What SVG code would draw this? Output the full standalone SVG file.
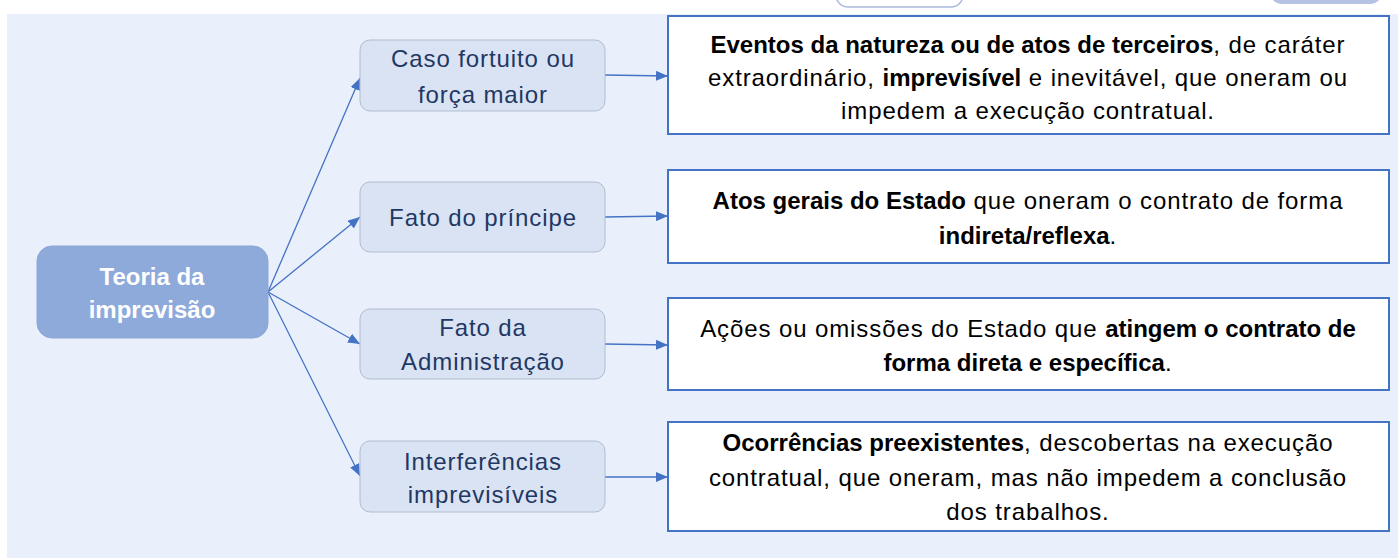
<svg xmlns="http://www.w3.org/2000/svg" width="1398" height="558" viewBox="0 0 1398 558">
<defs>
<style>
.panel{fill:#eaf0fb}
.root{fill:#8eaadb;stroke:#8aa5d6;stroke-width:1}
.child{fill:#dae3f3;stroke:#b0bccf;stroke-width:1}
.box{fill:#ffffff;stroke:#4472c4;stroke-width:2}
.conn{stroke:#4472c4;stroke-width:1.3;fill:none;marker-end:url(#arr)}
.rt{font-family:"Liberation Sans",Arial,sans-serif;font-size:24px;font-weight:bold;fill:#ffffff;text-anchor:middle}
.ct{font-family:"Liberation Sans",Arial,sans-serif;font-size:24px;letter-spacing:0.9px;fill:#1f3864;text-anchor:middle}
.bt{font-family:"Liberation Sans",Arial,sans-serif;font-size:24px;letter-spacing:0.9px;fill:#000000;text-anchor:middle}
.b{font-weight:bold;letter-spacing:0px}
</style>
<marker id="arr" markerUnits="userSpaceOnUse" markerWidth="12" markerHeight="10" refX="12" refY="5" orient="auto">
<path d="M0,0 L12,5 L0,10 z" fill="#4472c4"/>
</marker>
</defs>
<rect x="0" y="0" width="1398" height="558" fill="#ffffff"/>
<rect class="panel" x="7" y="14" width="1391" height="544"/>
<rect x="836" y="-20" width="127" height="27" rx="12" fill="#ffffff" stroke="#a9b8dc" stroke-width="1.5"/>
<rect x="1271" y="-20" width="110" height="24" rx="10" fill="#b4c3e3"/>
<g id="connectors">
<line class="conn" x1="268" y1="292" x2="360" y2="78"/>
<line class="conn" x1="268" y1="292" x2="360" y2="217"/>
<line class="conn" x1="268" y1="292" x2="360" y2="344"/>
<line class="conn" x1="268" y1="292" x2="360" y2="476"/>
<line class="conn" x1="605" y1="75" x2="668" y2="76"/>
<line class="conn" x1="605" y1="217" x2="668" y2="216"/>
<line class="conn" x1="605" y1="344" x2="668" y2="345"/>
<line class="conn" x1="605" y1="477" x2="668" y2="477"/>
</g>
<g id="root">
<rect class="root" x="37" y="246" width="231" height="92" rx="15"/>
<text class="rt" x="152" y="285">Teoria da</text>
<text class="rt" x="152" y="318">imprevisão</text>
</g>
<g id="caso">
<rect class="child" x="360" y="40" width="245" height="71" rx="10"/>
<text class="ct" x="483" y="67">Caso fortuito ou</text>
<text class="ct" x="483" y="103">força maior</text>
</g>
<g id="principe">
<rect class="child" x="360" y="182" width="245" height="70" rx="10"/>
<text class="ct" x="483" y="226">Fato do príncipe</text>
</g>
<g id="administracao">
<rect class="child" x="360" y="309" width="245" height="70" rx="10"/>
<text class="ct" x="483" y="336">Fato da</text>
<text class="ct" x="483" y="370">Administração</text>
</g>
<g id="interferencias">
<rect class="child" x="360" y="441" width="245" height="71" rx="10"/>
<text class="ct" x="483" y="470">Interferências</text>
<text class="ct" x="483" y="503">imprevisíveis</text>
</g>
<g id="desc-caso">
<rect class="box" x="668" y="16" width="721" height="118"/>
<text class="bt" x="1028" y="53"><tspan class="b">Eventos da natureza ou de atos de terceiros</tspan>, de caráter</text>
<text class="bt" x="1028" y="86">extraordinário, <tspan class="b">imprevisível</tspan> e inevitável, que oneram ou</text>
<text class="bt" x="1028" y="119">impedem a execução contratual.</text>
</g>
<g id="desc-principe">
<rect class="box" x="668" y="170" width="721" height="93"/>
<text class="bt" x="1028" y="209"><tspan class="b">Atos gerais do Estado</tspan> que oneram o contrato de forma</text>
<text class="bt" x="1028" y="244"><tspan class="b">indireta/reflexa</tspan>.</text>
</g>
<g id="desc-administracao">
<rect class="box" x="668" y="298" width="721" height="92"/>
<text class="bt" x="1028" y="337">Ações ou omissões do Estado que <tspan class="b">atingem o contrato de</tspan></text>
<text class="bt" x="1028" y="371"><tspan class="b">forma direta e específica</tspan>.</text>
</g>
<g id="desc-interferencias">
<rect class="box" x="668" y="422" width="721" height="109"/>
<text class="bt" x="1028" y="451"><tspan class="b">Ocorrências preexistentes</tspan>, descobertas na execução</text>
<text class="bt" x="1028" y="486">contratual, que oneram, mas não impedem a conclusão</text>
<text class="bt" x="1028" y="520">dos trabalhos.</text>
</g>
</svg>
